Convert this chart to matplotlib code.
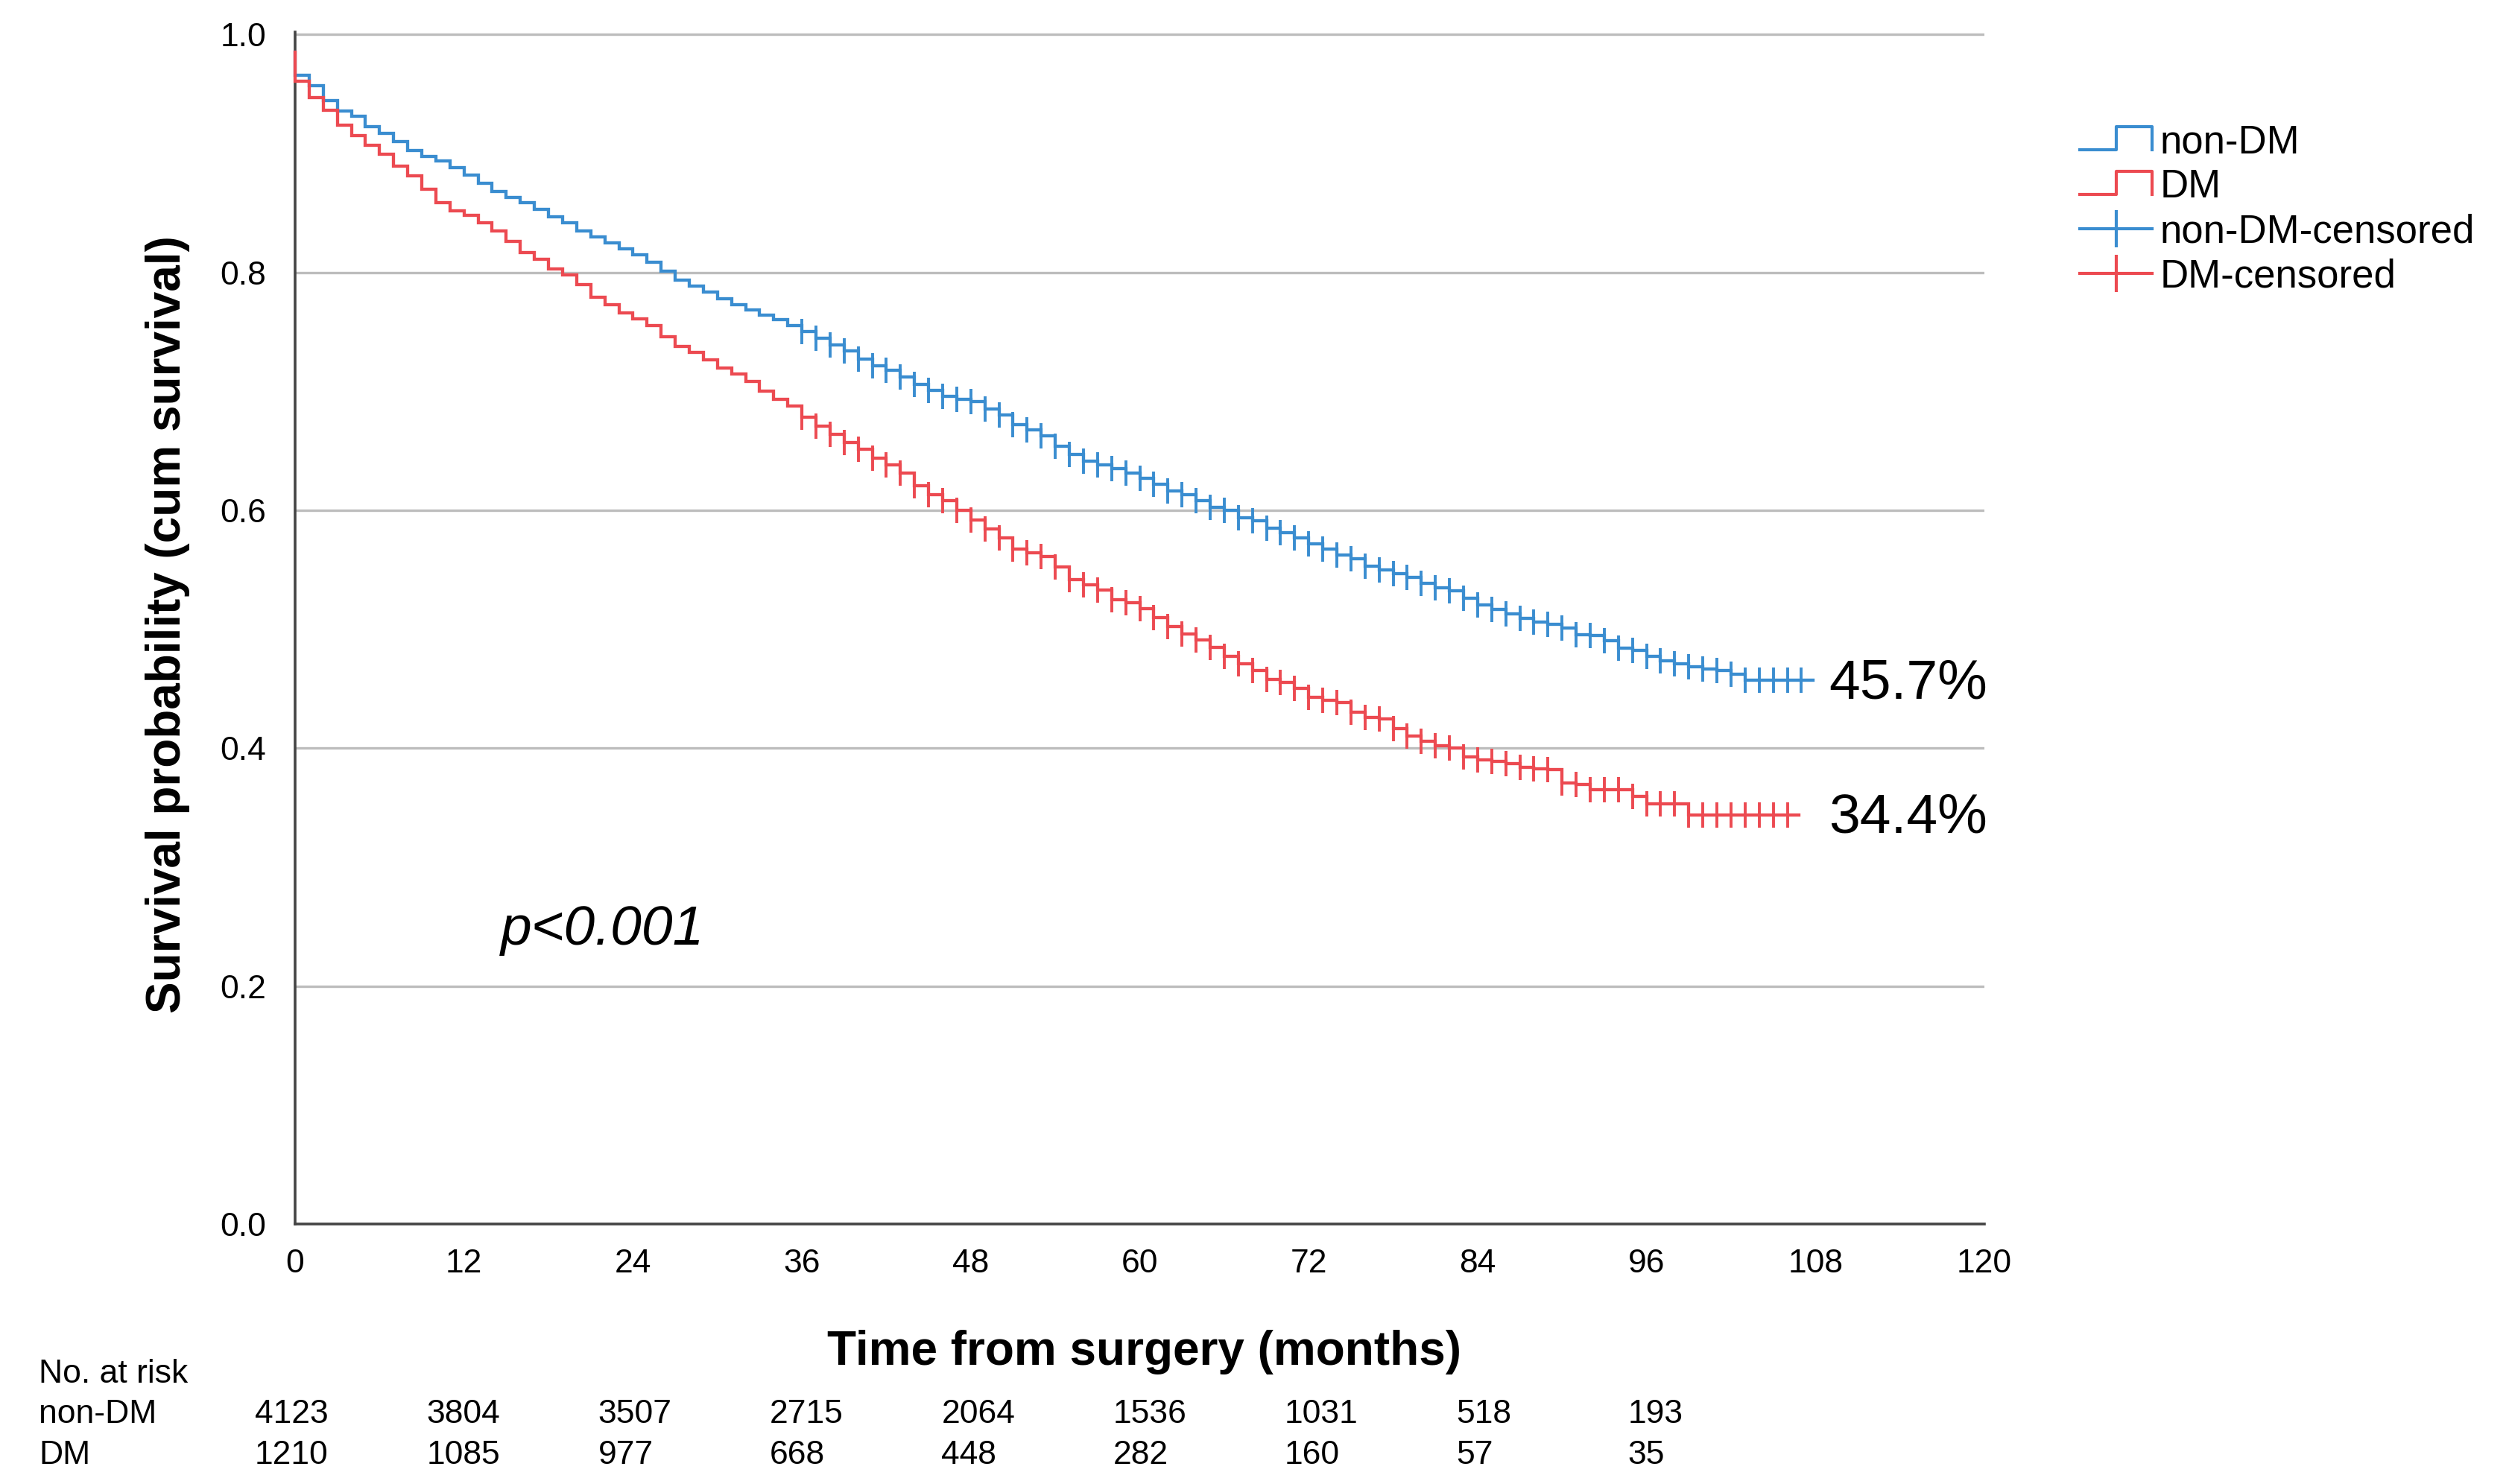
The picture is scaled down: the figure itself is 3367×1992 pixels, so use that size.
import numpy as np
import matplotlib
matplotlib.use("Agg")
import matplotlib.pyplot as plt
from matplotlib.lines import Line2D
from matplotlib.legend_handler import HandlerBase
from matplotlib.ticker import FormatStrFormatter

plt.rcParams['font.family'] = ['Liberation Sans', 'DejaVu Sans']

# ---------------- data ----------------
start_level = 0.985
# survival level on [month k, month k+1), k = 0, 1, 2, ...
nondm_levels = [0.9654, 0.957, 0.9446, 0.9356, 0.931, 0.9227, 0.9169, 0.910, 0.9023, 0.8977,
                0.8935, 0.888, 0.882, 0.875, 0.868, 0.863, 0.8585, 0.853, 0.847, 0.8415,
                0.835, 0.830, 0.8248, 0.8196, 0.8148, 0.8085, 0.8008, 0.7935, 0.7883, 0.7835,
                0.778, 0.773, 0.7685, 0.764, 0.760, 0.755, 0.750, 0.7446, 0.739, 0.734,
                0.727, 0.7217, 0.7175, 0.7123, 0.706, 0.7008, 0.6956, 0.6935, 0.6915, 0.685,
                0.680, 0.672, 0.6675, 0.6623, 0.6535, 0.6467, 0.6415, 0.6383, 0.6348, 0.631,
                0.6269, 0.6217, 0.6165, 0.6133, 0.608, 0.6023, 0.600, 0.5935, 0.591, 0.585,
                0.581, 0.577, 0.5717, 0.5675, 0.5623, 0.559, 0.553, 0.550, 0.5467, 0.5436,
                0.5383, 0.535, 0.532, 0.5258, 0.5206, 0.5165, 0.513, 0.509, 0.506, 0.504,
                0.5008, 0.4956, 0.4946, 0.4904, 0.4842, 0.482, 0.4769, 0.4737, 0.471, 0.4685,
                0.4665, 0.4654, 0.4623, 0.457]
dm_levels = [0.9606, 0.9467, 0.936, 0.924, 0.915, 0.907, 0.899, 0.889, 0.881, 0.870,
             0.8585, 0.852, 0.848, 0.8415, 0.835, 0.826, 0.8165, 0.811, 0.803, 0.798,
             0.790, 0.779, 0.7727, 0.7656, 0.761, 0.755, 0.7456, 0.7377, 0.7327, 0.7265,
             0.7196, 0.7144, 0.7085, 0.700, 0.693, 0.6877, 0.678, 0.6706, 0.664, 0.657,
             0.651, 0.6435, 0.6383, 0.631, 0.6206, 0.6133, 0.608, 0.600, 0.5915, 0.584,
             0.577, 0.5675, 0.5644, 0.561, 0.5525, 0.542, 0.5375, 0.533, 0.525, 0.522,
             0.5175, 0.510, 0.502, 0.496, 0.491, 0.485, 0.4775, 0.471, 0.465, 0.458,
             0.455, 0.450, 0.4425, 0.4404, 0.4383, 0.430, 0.4258, 0.4248, 0.4165, 0.410,
             0.406, 0.402, 0.400, 0.3925, 0.3904, 0.389, 0.387, 0.384, 0.3827, 0.382,
             0.3706, 0.3696, 0.3654, 0.3654, 0.3654, 0.3592, 0.353, 0.353, 0.353, 0.344]
nondm_end = 107.8
dm_end = 106.8
nondm_censored = list(range(36, 108))
dm_censored = list(range(36, 107))

risk_times = [0, 12, 24, 36, 48, 60, 72, 84, 96]
risk_nondm = [4123, 3804, 3507, 2715, 2064, 1536, 1031, 518, 193]
risk_dm = [1210, 1085, 977, 668, 448, 282, 160, 57, 35]

x_ticks = [0, 12, 24, 36, 48, 60, 72, 84, 96, 108, 120]
y_ticks = [0.0, 0.2, 0.4, 0.6, 0.8, 1.0]
p_text = "p<0.001"

BLUE = "#3a8dd0"
RED = "#ec4a51"

# ---------------- figure ----------------
W, H, DPI = 3367, 1992, 200
fig = plt.figure(figsize=(W / DPI, H / DPI), dpi=DPI)
ax = fig.add_axes([396 / W, 1 - 1643 / H, (2663 - 396) / W, (1643 - 43) / H])


def step_xy(levels, end):
    xs = [0.0] + list(range(len(levels))) + [end]
    ys = [start_level] + list(levels) + [levels[-1]]
    return np.array(xs, float), np.array(ys, float)


def level_at(levels, t):
    k = min(int(np.floor(t)), len(levels) - 1)
    return levels[k]


for levels, end, cens, col in [(nondm_levels, nondm_end, nondm_censored, BLUE),
                               (dm_levels, dm_end, dm_censored, RED)]:
    xs, ys = step_xy(levels, end)
    ax.step(xs, ys, where='post', color=col, lw=1.55, zorder=6, solid_joinstyle='miter',
            clip_on=False)
    cy = [level_at(levels, t) for t in cens]
    ax.plot(cens, cy, linestyle='none', marker='|', ms=12, mew=1.4, color=col, zorder=7)

# percent labels
for levels, end in [(nondm_levels, nondm_end), (dm_levels, dm_end)]:
    ax.text(108.95, levels[-1] - 0.003, f"{levels[-1] * 100:.1f}%", fontsize=27,
            ha='left', va='center', color='black')

ax.text(14.6, 0.247, p_text, fontsize=27, style='italic', ha='left', va='center')

ax.set_xlim(0, 120)
ax.set_ylim(0, 1.002)
ax.set_xticks(x_ticks)
ax.set_yticks(y_ticks)
ax.yaxis.set_major_formatter(FormatStrFormatter('%.1f'))
ax.tick_params(axis='both', length=0, labelsize=16)
ax.tick_params(axis='x', pad=12)
ax.tick_params(axis='y', pad=14)
ax.grid(axis='y', color='#bdbdbd', lw=1.2, zorder=1)
ax.set_axisbelow(True)
for s in ['top', 'right']:
    ax.spines[s].set_visible(False)
for s in ['left', 'bottom']:
    ax.spines[s].set_color('#444444')
    ax.spines[s].set_linewidth(1.3)
    ax.spines[s].set_zorder(5)

# axis titles
fig.text(225 / W, 1 - 838 / H, "Survival probability (cum survival)", rotation=90,
         fontsize=23, fontweight='bold', ha='center', va='center')
fig.text(1535 / W, 1 - 1815 / H, "Time from surgery (months)",
         fontsize=23, fontweight='bold', ha='center', va='center')


# legend
class HandlerStep(HandlerBase):
    def create_artists(self, legend, orig_handle, xdescent, ydescent, width, height,
                       fontsize, trans):
        x0, y0 = -xdescent, -ydescent
        lo, hi = y0 + 0.1 * height, y0 + 0.95 * height
        xs = [x0, x0 + 0.5 * width, x0 + 0.5 * width, x0 + width, x0 + width]
        ys = [lo, lo, hi, hi, lo]
        ln = Line2D(xs, ys, color=orig_handle.get_color(), lw=orig_handle.get_linewidth())
        ln.set_transform(trans)
        return [ln]


h_nondm = Line2D([], [], color=BLUE, lw=1.5)
h_dm = Line2D([], [], color=RED, lw=1.5)
h_nondm_c = Line2D([], [], color=BLUE, lw=1.5, marker='|', ms=18, mew=1.5)
h_dm_c = Line2D([], [], color=RED, lw=1.5, marker='|', ms=18, mew=1.5)
leg = fig.legend([h_nondm, h_dm, h_nondm_c, h_dm_c],
                 ["non-DM", "DM", "non-DM-censored", "DM-censored"],
                 handler_map={h_nondm: HandlerStep(), h_dm: HandlerStep()},
                 loc='upper left', bbox_to_anchor=(2791 / W, 1 - 166 / H),
                 frameon=False, fontsize=19, handlelength=1.84, handletextpad=0.2,
                 labelspacing=0.19, borderpad=0, borderaxespad=0, numpoints=1)

# number at risk table
fig.text(52 / W, 1 - 1844 / H, "No. at risk", fontsize=16, ha='left', va='center')
fig.text(52 / W, 1 - 1898 / H, "non-DM", fontsize=16, ha='left', va='center')
fig.text(52 / W, 1 - 1953 / H, "DM", fontsize=16, ha='left', va='center')
trans = matplotlib.transforms.blended_transform_factory(ax.transData, fig.transFigure)
for t, a, b in zip(risk_times, risk_nondm, risk_dm):
    xpos = t * 1.016 - 2.86
    ax.text(xpos, 1 - 1898 / H, str(a), fontsize=16, ha='left', va='center',
            transform=trans, clip_on=False)
    ax.text(xpos, 1 - 1953 / H, str(b), fontsize=16, ha='left', va='center',
            transform=trans, clip_on=False)

fig.savefig("out.png", dpi=DPI, facecolor='white')
